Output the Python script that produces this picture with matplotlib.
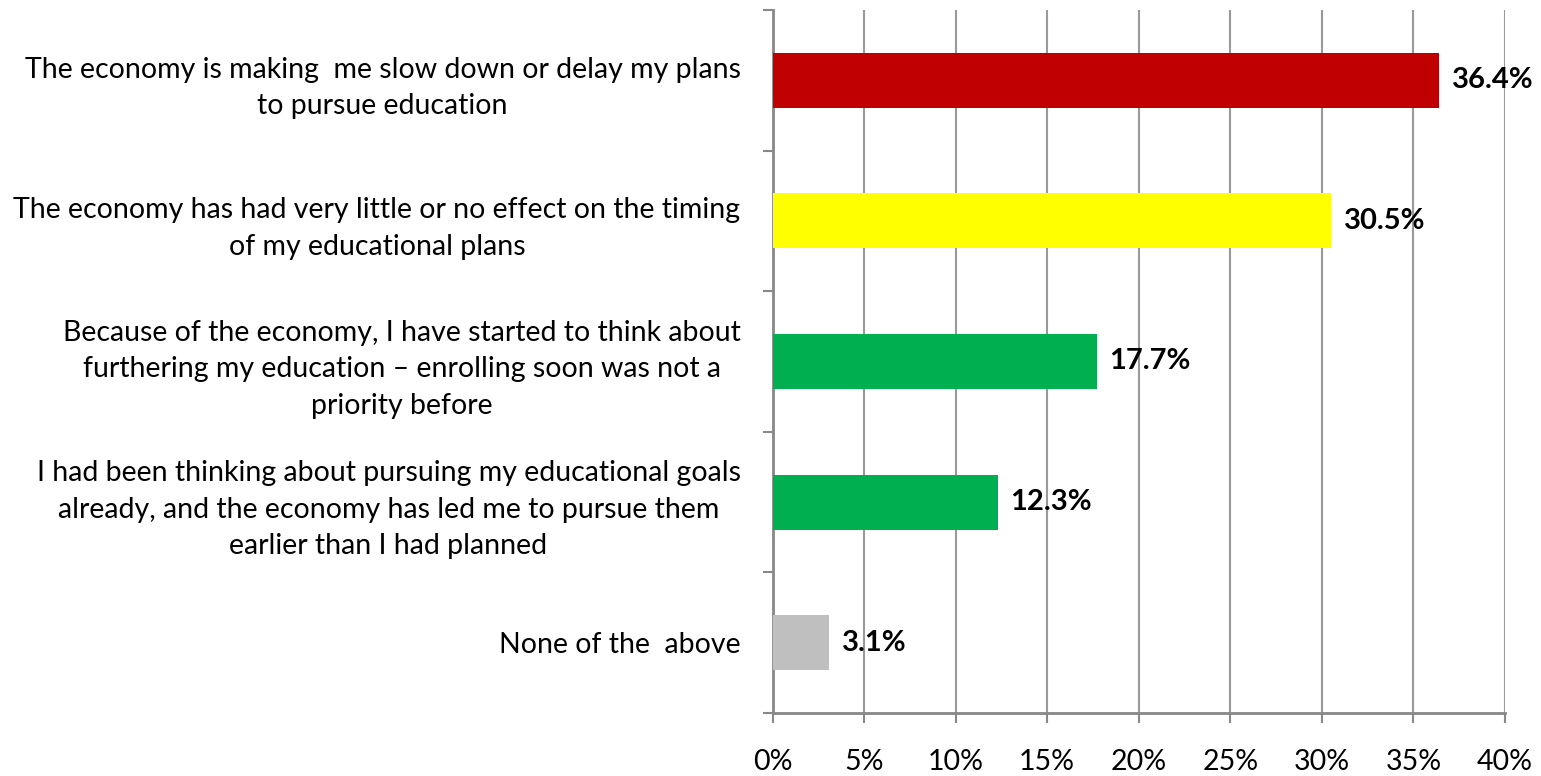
import numpy as np
import matplotlib
matplotlib.use('Agg')
import matplotlib.pyplot as plt

plt.rcParams['font.family'] = ['Lato', 'DejaVu Sans']

# data, top to bottom
categories = [
    'The economy is making  me slow down or delay my plans\nto pursue education',
    'The economy has had very little or no effect on the timing\nof my educational plans',
    'Because of the economy, I have started to think about\nfurthering my education \u2013 enrolling soon was not a\npriority before',
    'I had been thinking about pursuing my educational goals\nalready, and the economy has led me to pursue them\nearlier than I had planned',
    'None of the  above',
]
values = [36.4, 30.5, 17.7, 12.3, 3.1]
bar_colors = ['#C00000', '#FFFF00', '#00B050', '#00B050', '#BFBFBF']
xticks = [0, 5, 10, 15, 20, 25, 30, 35, 40]

fig = plt.figure(figsize=(15.41, 7.76), dpi=100)
ax = fig.add_axes([0.5013, 0.0812, 0.9766 - 0.5013, 0.9871 - 0.0812])

y = np.arange(len(categories))
ax.barh(y, values, height=0.39, color=bar_colors, zorder=3)
for yi, v in zip(y, values):
    ax.annotate(f'{v:.1f}%', (v, yi), xytext=(9, 0), textcoords='offset points',
                ha='left', va='center', fontsize=21, fontweight='bold', zorder=4)

ax.set_xlim(0, 40)
ax.set_ylim(len(categories) - 0.5, -0.5)
ax.set_xticks(xticks)
ax.set_xticklabels([f'{t}%' for t in xticks], fontsize=20.5)
ax.xaxis.grid(True, color='#999999', lw=1.5, zorder=0)

# category ticks sit between bars (Excel style)
ax.set_yticks(np.arange(len(categories) + 1) - 0.5)
ax.set_yticklabels([])
ax.set_yticks(y, minor=True)
ax.set_yticklabels(categories, minor=True, fontsize=20.5, multialignment='center',
                   linespacing=1.5)
ax.tick_params(axis='y', which='minor', length=0, pad=23)
ax.tick_params(axis='y', which='major', length=7, width=1.5, color='#888888')
ax.tick_params(axis='x', length=7, width=1.5, color='#888888', pad=19)

for s in ['top', 'right']:
    ax.spines[s].set_visible(False)
for s in ['left', 'bottom']:
    ax.spines[s].set_color('#888888')
    ax.spines[s].set_linewidth(2)

fig.savefig('out.png', dpi=100)
